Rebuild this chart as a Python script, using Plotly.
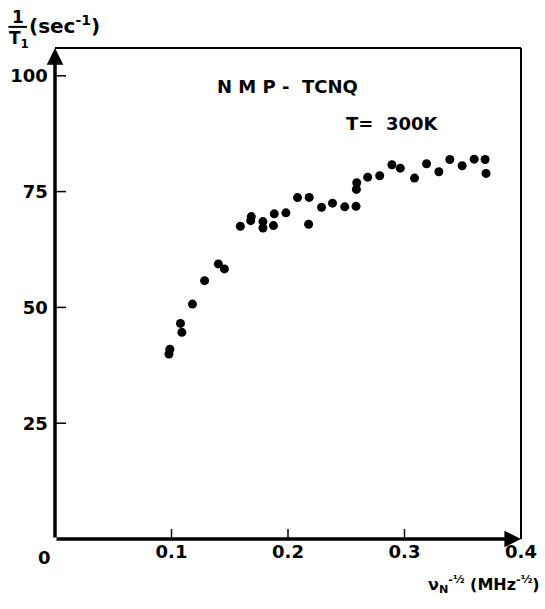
import plotly.graph_objects as go

# data: nu_N^(-1/2) (MHz^-1/2) vs 1/T1 (sec^-1)
x_vals = [0.0986, 0.0978, 0.1077, 0.1089, 0.1180, 0.1284, 0.1402, 0.1454,
          0.1591, 0.1685, 0.1680, 0.1785, 0.1785, 0.1875, 0.1882, 0.1982,
          0.2082, 0.2182, 0.2177, 0.2288, 0.2382, 0.2487, 0.2584, 0.2587,
          0.2590, 0.2684, 0.2787, 0.2892, 0.2964, 0.3086, 0.3189, 0.3295,
          0.3389, 0.3495, 0.3598, 0.3692, 0.3700]
y_vals = [40.96, 39.94, 46.55, 44.62, 50.71, 55.77, 59.39, 58.31,
          67.51, 69.60, 68.73, 68.52, 67.14, 67.66, 70.20, 70.41,
          73.71, 73.75, 67.94, 71.60, 72.50, 71.71, 71.81, 75.47,
          76.92, 78.12, 78.42, 80.79, 80.06, 77.91, 81.01, 79.29,
          81.93, 80.58, 82.00, 81.93, 78.92]

x_ticks = [0.1, 0.2, 0.3, 0.4]
x_tick_labels = ["0.1", "0.2", "0.3", "0.4"]
y_ticks = [25, 50, 75, 100]
y_tick_labels = ["25", "50", "75", "100"]

FONT = "DejaVu Sans"
BOLD = dict(family=FONT, weight=700, color="black")
W, H = 545, 609
ML, MR, MT, MB = 55, 24, 48, 70
PW, PH = W - ML - MR, H - MT - MB
XMAX, YMAX = 0.4, 106
DX = XMAX / PW   # data units per pixel, x
DY = YMAX / PH   # data units per pixel, y

fig = go.Figure()
fig.add_trace(go.Scatter(x=x_vals, y=y_vals, mode="markers",
                         marker=dict(color="black", size=9, line=dict(width=0)),
                         showlegend=False, hoverinfo="skip"))

# inside tick marks built from the tick lists
tx, ty = [], []
for t in y_ticks:
    tx += [0, 11 * DX, None]
    ty += [t, t, None]
for t in x_ticks[:-1]:
    tx += [t, t, None]
    ty += [0, 10 * DY, None]
fig.add_trace(go.Scatter(x=tx, y=ty, mode="lines", showlegend=False,
                         line=dict(color="black", width=1.5), hoverinfo="skip"))

fig.update_layout(
    width=W, height=H, autosize=False,
    margin=dict(l=ML, r=MR, t=MT, b=MB, autoexpand=False),
    plot_bgcolor="white", paper_bgcolor="white",
    font=dict(family=FONT, color="black"),
    xaxis=dict(range=[0, XMAX], tickvals=x_ticks, ticktext=x_tick_labels,
               ticks="", showgrid=False, zeroline=False, showline=False,
               tickfont=dict(size=18, **BOLD)),
    yaxis=dict(range=[0, YMAX], tickvals=y_ticks,
               ticktext=[t + "\u00a0" for t in y_tick_labels],
               ticks="", showgrid=False, zeroline=False, showline=False,
               tickfont=dict(size=18, **BOLD)),
)

# frame: thin top and right lines
fig.add_shape(type="line", xref="paper", yref="paper", x0=0, x1=1, y0=1, y1=1,
              line=dict(color="black", width=2))
fig.add_shape(type="line", xref="paper", yref="paper", x0=1, x1=1, y0=0, y1=1,
              line=dict(color="black", width=2))
# thick axes ending in arrow heads
fig.add_annotation(x=0, y=YMAX, ax=0, ay=0, xref="x", yref="y", axref="x", ayref="y",
                   showarrow=True, arrowhead=2, arrowsize=0.95, arrowwidth=3.5,
                   arrowcolor="black", text="")
fig.add_annotation(x=XMAX, y=0, ax=0, ay=0, xref="x", yref="y", axref="x", ayref="y",
                   showarrow=True, arrowhead=2, arrowsize=0.95, arrowwidth=3.5,
                   arrowcolor="black", text="")

# origin label
fig.add_annotation(xref="paper", yref="paper", x=-0.0235, y=-0.037, text="0",
                   showarrow=False, xanchor="center", yanchor="middle",
                   font=dict(size=18, **BOLD))

# y-axis title: 1/T1 (sec^-1)
fig.add_annotation(xref="paper", yref="paper", x=-0.080, y=1.064, yanchor="middle",
                   xanchor="center", showarrow=False,
                   text="1", font=dict(size=17, **BOLD))
fig.add_shape(type="line", xref="paper", yref="paper", x0=-0.100, x1=-0.060,
              y0=1.043, y1=1.043, line=dict(color="black", width=2))
fig.add_annotation(xref="paper", yref="paper", x=-0.078, y=1.018, yanchor="middle",
                   xanchor="center", showarrow=False,
                   text="T<sub>1</sub>", font=dict(size=17, **BOLD))
fig.add_annotation(xref="paper", yref="paper", x=-0.060, y=1.047, yanchor="middle",
                   xanchor="left", showarrow=False,
                   text="(sec<sup>-1</sup>)", font=dict(size=20, **BOLD))

# x-axis title
fig.add_annotation(xref="paper", yref="paper", x=1.045, y=-0.092, xanchor="right",
                   yanchor="middle", showarrow=False,
                   text="ν<sub>N</sub><sup>-½</sup> (MHz<sup>-½</sup>)",
                   font=dict(size=16, **BOLD))

# labels in plot
fig.add_annotation(xref="paper", yref="paper", x=0.344, y=0.921, xanchor="left",
                   yanchor="middle", showarrow=False,
                   text="N M P -  TCNQ", font=dict(size=18, **BOLD))
fig.add_annotation(xref="paper", yref="paper", x=0.62, y=0.847, xanchor="left",
                   yanchor="middle", showarrow=False,
                   text="T=  300K", font=dict(size=18, **BOLD))

fig.write_html("out.html", config={"displayModeBar": False},
               post_script="document.body.style.margin='0';")
